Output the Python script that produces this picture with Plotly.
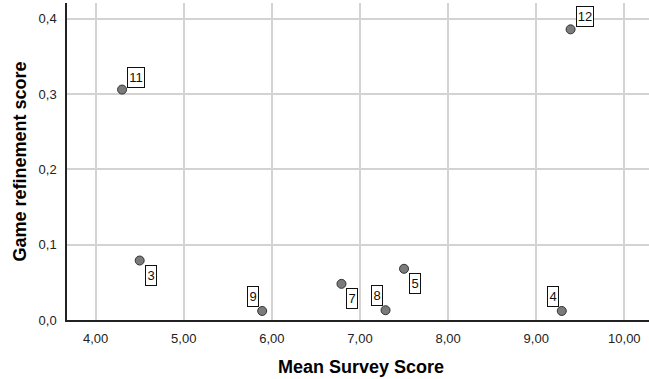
import plotly.graph_objects as go

labels = ["11", "12", "3", "9", "7", "8", "5", "4"]
mean_survey = [4.30, 9.39, 4.50, 5.89, 6.79, 7.29, 7.50, 9.29]
refinement = [0.306, 0.386, 0.079, 0.012, 0.048, 0.013, 0.068, 0.012]
# label placement: 'ur' upper-right, 'lr' lower-right, 'ul' upper-left
placement = ["ur", "ur", "lr", "ul", "lr", "ul", "lr", "ul"]

x_ticks = [4, 5, 6, 7, 8, 9, 10]
y_ticks = [0.0, 0.1, 0.2, 0.3, 0.4]

fig = go.Figure()
fig.add_trace(go.Scatter(
    x=mean_survey, y=refinement, mode="markers",
    marker=dict(size=9, color="#7b7b7b", line=dict(color="#333333", width=1)),
    hoverinfo="skip", showlegend=False,
))

annotations = []
for lab, xv, yv, p in zip(labels, mean_survey, refinement, placement):
    w = 16 if len(lab) == 2 else 10
    if p == "ur":
        xa, ya, xs, ys = "left", "bottom", 5, 2
    elif p == "lr":
        xa, ya, xs, ys = "left", "top", 5, -4
    else:
        xa, ya, xs, ys = "right", "bottom", -3, 4
    annotations.append(dict(
        x=xv, y=yv, xref="x", yref="y", text=lab, showarrow=False,
        xanchor=xa, yanchor=ya, xshift=xs, yshift=ys,
        font=dict(family="Liberation Sans, Arial", size=13, color="#111111"),
        bgcolor="white", bordercolor="#111111", borderwidth=1, borderpad=0,
        width=w, height=19, align="center", valign="middle",
    ))

annotations.append(dict(
    xref="x domain", yref="y domain", x=0.505, y=0, yshift=-47,
    text="<b>Mean Survey Score</b>", showarrow=False,
    xanchor="center", yanchor="middle",
    font=dict(family="Liberation Sans, Arial", size=18, color="#000000"),
))
annotations.append(dict(
    xref="paper", yref="y domain", x=0, y=0.5, xshift=-48,
    text="<b>Game refinement score</b>", textangle=-90, showarrow=False,
    xanchor="center", yanchor="middle",
    font=dict(family="Liberation Sans, Arial", size=18, color="#000000"),
))

fig.update_layout(
    width=649, height=379,
    margin=dict(l=67, r=0, t=3, b=59, autoexpand=False),
    paper_bgcolor="white", plot_bgcolor="white",
    separators=",.",
    font=dict(family="Liberation Sans, Arial", size=13, color="#222222"),
    annotations=annotations,
)
fig.update_xaxes(
    range=[3.675, 10.28], tickvals=x_ticks, tickformat=".2f",
    showgrid=True, gridcolor="#d3d3d3", gridwidth=1.5,
    showline=True, linecolor="#222222", linewidth=1.5,
    ticks="", zeroline=False, ticklabelstandoff=6, automargin=False,
)
fig.update_yaxes(
    range=[0, 0.421], tickvals=y_ticks, tickformat=".1f",
    showgrid=True, gridcolor="#d3d3d3", gridwidth=1.5,
    showline=True, linecolor="#222222", linewidth=1.5,
    ticks="", zeroline=False, ticklabelstandoff=6, automargin=False,
)

fig.write_html(
    "out.html",
    config={"displayModeBar": False},
    post_script="document.body.style.margin='0';document.body.style.overflow='hidden';",
)
